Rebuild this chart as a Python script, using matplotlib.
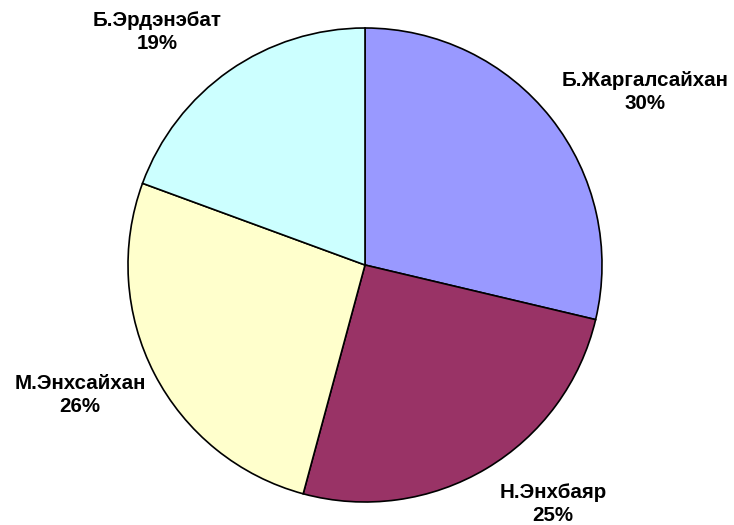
import matplotlib
matplotlib.use("Agg")
import matplotlib.pyplot as plt

names = ["Б.Жаргалсайхан", "Н.Энхбаяр", "М.Энхсайхан", "Б.Эрдэнэбат"]
values = [28.7, 25.5, 26.4, 19.4]
pct_labels = ["30%", "25%", "26%", "19%"]
colors = ["#9999FF", "#993366", "#FFFFCC", "#CCFFFF"]
label_pos = [(645, 92), (553, 504), (80, 395), (157, 32)]  # pixel positions (x, y from top)

W, H = 734, 525
fig = plt.figure(figsize=(W / 100, H / 100), dpi=100)
ax = fig.add_axes([0, 0, 1, 1])
ax.set_xlim(0, W)
ax.set_ylim(0, H)
ax.set_aspect("equal")
ax.axis("off")

ax.pie(values, colors=colors, startangle=90, counterclock=False,
       center=(365, H - 265), radius=237,
       wedgeprops=dict(edgecolor="black", linewidth=1.2))
ax.set_xlim(0, W)
ax.set_ylim(0, H)

for n, p, (x, y) in zip(names, pct_labels, label_pos):
    ax.text(x, H - y, f"{n}\n{p}", ha="center", va="center",
            fontsize=14.8, fontweight="bold", family="Liberation Sans",
            linespacing=1.3)

fig.savefig("out.png", dpi=100)
